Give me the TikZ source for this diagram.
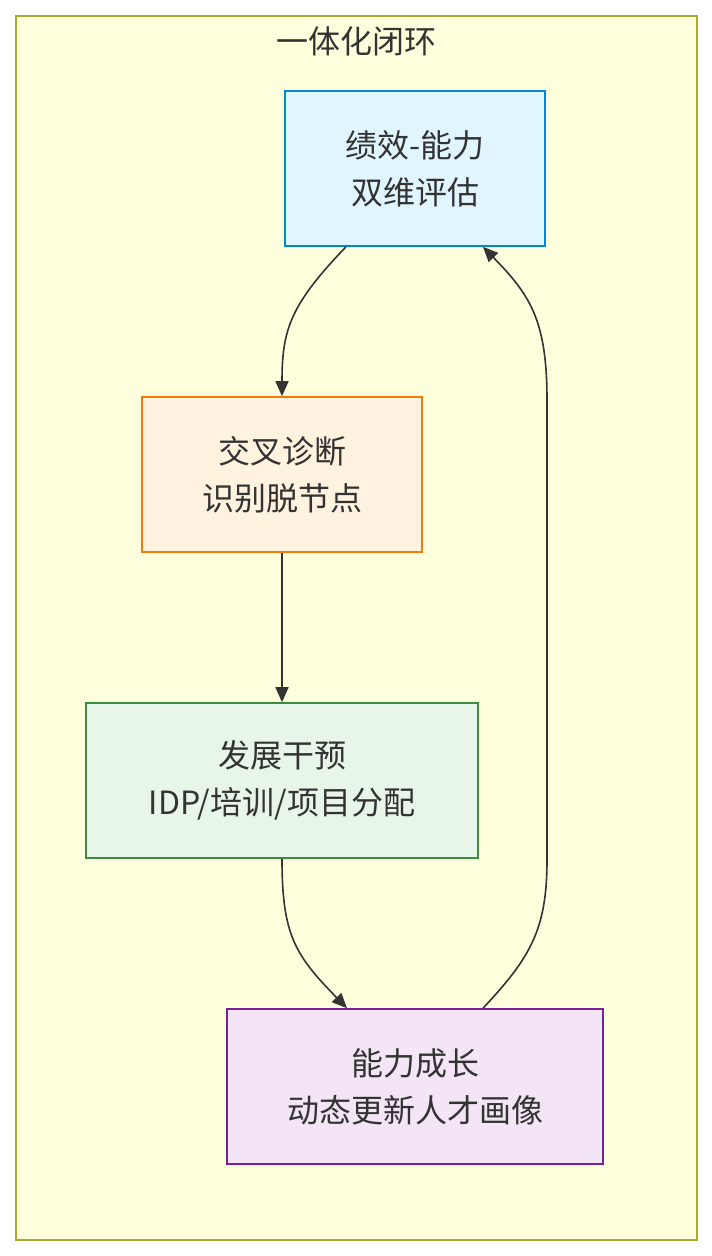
\documentclass[tikz,border=0pt]{standalone}
\usepackage{fontspec}
\setmainfont{Noto Sans CJK SC}
\usetikzlibrary{arrows.meta}
\definecolor{outerfill}{HTML}{FFFFDE}
\definecolor{outerdraw}{HTML}{AAAA33}
\definecolor{txt}{HTML}{333333}
\definecolor{afill}{HTML}{E1F5FE}\definecolor{adraw}{HTML}{0288D1}
\definecolor{bfill}{HTML}{FFF3E0}\definecolor{bdraw}{HTML}{F57C00}
\definecolor{cfill}{HTML}{E8F5E9}\definecolor{cdraw}{HTML}{388E3C}
\definecolor{dfill}{HTML}{F3E5F5}\definecolor{ddraw}{HTML}{7B1FA2}
\tikzset{
  stepbox/.style={draw, line width=1.6pt, minimum height=155pt, inner sep=0pt,
    align=center, text=txt, font=\fontsize{32}{47}\selectfont},
  flow/.style={draw=txt, line width=1.6pt, -{Triangle[length=15pt,width=13pt]}}
}
\begin{document}
\begin{tikzpicture}[x=1pt,y=-1pt]
\useasboundingbox (0,0) rectangle (712,1256);
\draw[fill=outerfill, draw=outerdraw, line width=1.4pt] (16,16) rectangle (697,1240);
\node[text=txt, font=\fontsize{32}{38}\selectfont] (title) at (356,41) {一体化闭环};
\node[stepbox, fill=afill, draw=adraw, minimum width=260pt] (A) at (415,168.5) {绩效-能力\\双维评估};
\node[stepbox, fill=bfill, draw=bdraw, minimum width=280pt] (B) at (282,474.5) {交叉诊断\\识别脱节点};
\node[stepbox, fill=cfill, draw=cdraw, minimum width=392pt] (C) at (282,780.5) {发展干预\\IDP/培训/项目分配};
\node[stepbox, fill=dfill, draw=ddraw, minimum width=376pt] (D) at (415,1086.5) {能力成长\\动态更新人才画像};
\draw[flow] ([xshift=-69pt]A.south) .. controls (290,305) and (282,330) .. (B.north);
\draw[flow] (B.south) -- (C.north);
\draw[flow] (C.south) .. controls (282,935) and (295,955) .. ([xshift=-68pt]D.north);
\draw[flow] ([xshift=68pt]D.north) .. controls (530,958) and (547,930) .. (547,860)
  -- (547,400) .. controls (547,320) and (530,295) .. ([xshift=68pt]A.south);
\end{tikzpicture}
\end{document}
